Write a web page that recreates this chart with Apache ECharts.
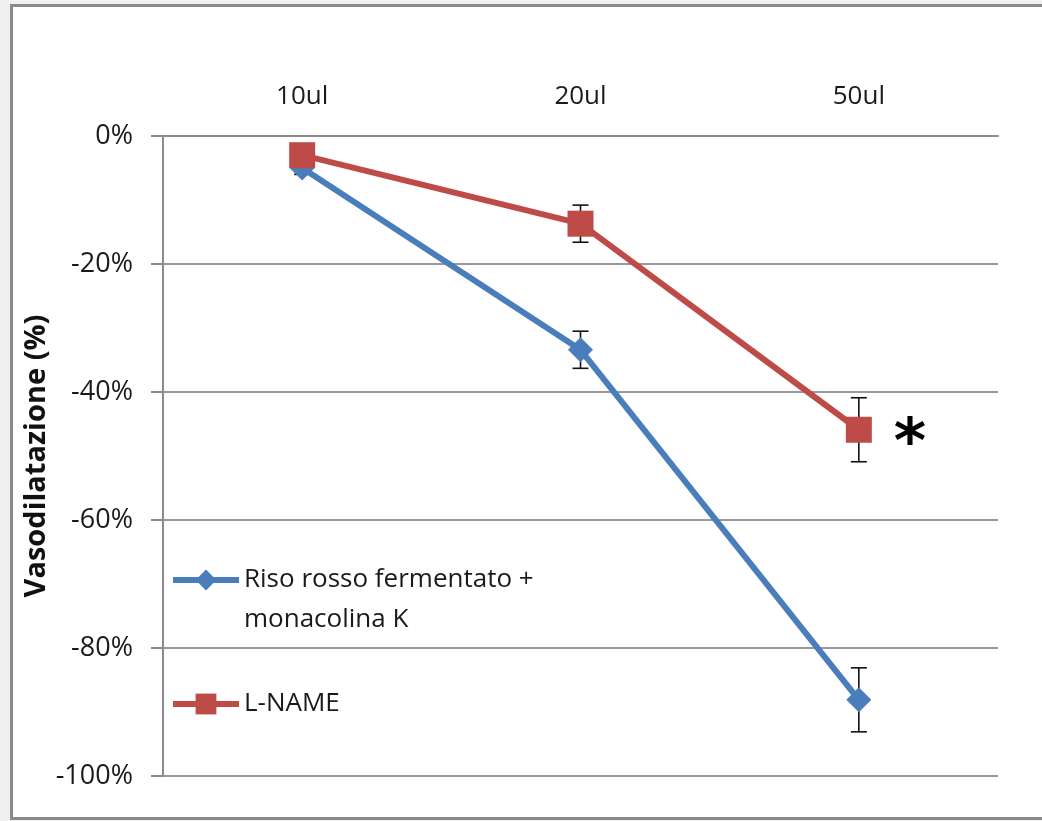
<!DOCTYPE html>
<html>
<head>
<meta charset="utf-8">
<style>
  html, body { margin: 0; padding: 0; background: #f0f0f0; }
  #chart { width: 1042px; height: 821px; }
</style>
<script src="https://cdn.jsdelivr.net/npm/echarts@6/dist/echarts.min.js"></script>
</head>
<body>
<div id="chart"></div>
<script>
// Doses on the category axis
const doses = ['10ul', '20ul', '50ul'];

// Mean vasodilatation (%) and error per dose
const risoName = 'Riso rosso fermentato +\nmonacolina K';
const risoValues = [-5, -33.4, -88.1];
const risoErrors = [1, 2.9, 5.0];

const lnameName = 'L-NAME';
const lnameValues = [-3, -13.7, -45.9];
const lnameErrors = [1, 2.9, 5.0];

// Y axis ticks (percent)
const yMin = -100, yMax = 0, yStep = 20;

const BLUE = '#4a7ebb';
const RED = '#be4b48';
const FONT = '"Open Sans", sans-serif';

// Error bar series: vertical whisker with caps, from value ± error
function errorSeries(values, errors, z) {
  return {
    type: 'custom',
    z: z,
    silent: true,
    data: values.map((v, i) => [i, v - errors[i], v + errors[i]]),
    renderItem: function (params, api) {
      const lo = api.coord([api.value(0), api.value(1)]);
      const hi = api.coord([api.value(0), api.value(2)]);
      const half = 8;
      const st = { stroke: '#111', lineWidth: 1.6 };
      return {
        type: 'group',
        children: [
          { type: 'line', shape: { x1: lo[0], y1: lo[1], x2: hi[0], y2: hi[1] }, style: st },
          { type: 'line', shape: { x1: lo[0] - half, y1: lo[1], x2: lo[0] + half, y2: lo[1] }, style: st },
          { type: 'line', shape: { x1: hi[0] - half, y1: hi[1], x2: hi[0] + half, y2: hi[1] }, style: st }
        ]
      };
    }
  };
}

const legendBase = {
  orient: 'vertical',
  left: 170,
  padding: 0,
  itemWidth: 66,
  itemHeight: 26,
  itemGap: 0,
  selectedMode: false,
  lineStyle: { width: 6 },
  textStyle: { fontFamily: FONT, fontSize: 26, color: '#1a1a1a', lineHeight: 40 }
};

const chart = echarts.init(document.getElementById('chart'), null, { renderer: 'canvas' });

chart.setOption({
  animation: false,
  backgroundColor: '#f0f0f0',
  graphic: [
    {
      type: 'rect',
      z: -10,
      shape: { x: 11.5, y: 5.5, width: 1100, height: 813 },
      style: { fill: '#ffffff', stroke: '#8a8a8a', lineWidth: 3 }
    }
  ],
  grid: { left: 163, right: 44, top: 136, bottom: 45 },
  legend: [
    Object.assign({}, legendBase, {
      data: [risoName],
      top: 520,
      // leading blank line keeps the marker level with the first text line
      formatter: name => '\n' + name
    }),
    Object.assign({}, legendBase, {
      data: [lnameName],
      top: 684
    })
  ],
  xAxis: {
    type: 'category',
    position: 'top',
    data: doses,
    boundaryGap: true,
    axisLine: { lineStyle: { color: '#8c8c8c', width: 2 } },
    axisTick: { inside: true, length: 13, lineStyle: { color: '#8c8c8c', width: 2 } },
    axisLabel: { margin: 26, fontFamily: FONT, fontSize: 26, color: '#1a1a1a' },
    splitLine: { show: false }
  },
  yAxis: {
    type: 'value',
    min: yMin,
    max: yMax,
    interval: yStep,
    name: 'Vasodilatazione (%)',
    nameLocation: 'middle',
    nameGap: 112,
    nameMoveOverlap: false,
    nameRotate: 90,
    nameTextStyle: { fontFamily: FONT, fontSize: 29, fontWeight: 'bold', color: '#111' },
    axisLine: { show: true, lineStyle: { color: '#8c8c8c', width: 2 } },
    axisTick: { show: true, inside: false, length: 12, lineStyle: { color: '#8c8c8c', width: 2 } },
    axisLabel: { margin: 30, formatter: '{value}%', fontFamily: FONT, fontSize: 27, color: '#1a1a1a' },
    splitLine: { show: true, lineStyle: { color: '#999999', width: 2 } }
  },
  series: [
    errorSeries(risoValues, risoErrors, 1),
    errorSeries(lnameValues, lnameErrors, 1),
    {
      name: risoName,
      type: 'line',
      z: 3,
      data: risoValues,
      symbol: 'diamond',
      symbolSize: 25,
      lineStyle: { color: BLUE, width: 6 },
      itemStyle: { color: BLUE }
    },
    {
      name: lnameName,
      type: 'line',
      z: 4,
      data: lnameValues.map((v, i) => i === 2
        ? {
            value: v,
            label: {
              show: true,
              position: 'right',
              distance: 22,
              offset: [0, 16],
              formatter: '*',
              fontFamily: 'DejaVu Sans, sans-serif',
              fontWeight: 'bold',
              fontSize: 62,
              color: '#000'
            }
          }
        : v),
      symbol: 'rect',
      symbolSize: 26,
      lineStyle: { color: RED, width: 6 },
      itemStyle: { color: RED }
    }
  ]
});
</script>
</body>
</html>
